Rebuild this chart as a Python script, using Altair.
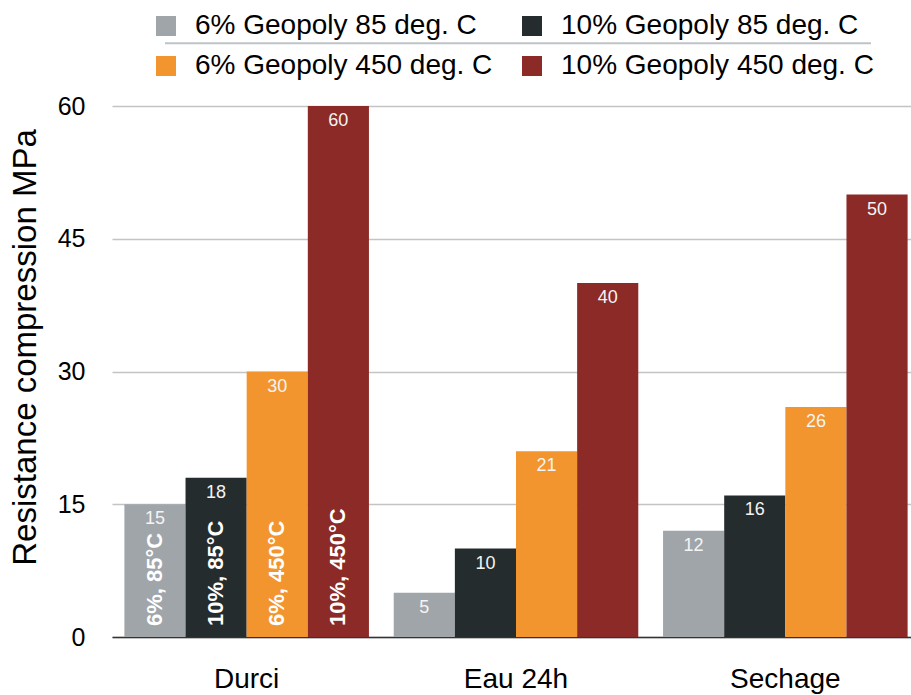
import altair as alt
import pandas as pd

categories = ["Durci", "Eau 24h", "Sechage"]
series = ["6% Geopoly 85 deg. C", "10% Geopoly 85 deg. C",
          "6% Geopoly 450 deg. C", "10% Geopoly 450 deg. C"]
short_labels = ["6%, 85°C", "10%, 85°C", "6%, 450°C", "10%, 450°C"]
vals_6_85 = [15, 5, 12]
vals_10_85 = [18, 10, 16]
vals_6_450 = [30, 21, 26]
vals_10_450 = [60, 40, 50]
colors = ["#A0A5AA", "#252C2E", "#F2952E", "#8B2A26"]
y_ticks = [0, 15, 30, 45, 60]

rows = []
for s, short, vals in zip(series, short_labels,
                          [vals_6_85, vals_10_85, vals_6_450, vals_10_450]):
    for c, v in zip(categories, vals):
        rows.append({"category": c, "series": s, "value": v,
                     "short": short if c == "Durci" else ""})
df = pd.DataFrame(rows)

FONT = "Liberation Sans"

x = alt.X("category:N", sort=categories,
          scale=alt.Scale(range=[0, 808], paddingInner=0.092, paddingOuter=0.046),
          axis=alt.Axis(title=None, labelAngle=0, labelFontSize=28, labelFont=FONT,
                        labelColor="#000000", labelPadding=28, ticks=False, tickSize=0,
                        domainColor="#333333", domainWidth=1.5, grid=False))
xo = alt.XOffset("series:N", sort=series,
                 scale=alt.Scale(paddingInner=0, paddingOuter=0))
y = alt.Y("value:Q", scale=alt.Scale(domain=[0, 60], nice=False),
          axis=alt.Axis(values=y_ticks, title="Resistance compression MPa",
                        domain=False, ticks=False, tickSize=0, labelPadding=27,
                        labelFontSize=25, labelFont=FONT, labelColor="#000000",
                        gridColor="#C4C4C4", gridWidth=1.5,
                        titleFontSize=33, titleFont=FONT, titleFontWeight="normal",
                        titleColor="#000000", titleAngle=270, titleX=-87, titleY=241,
                        titleBaseline="middle", titleAlign="center"))
color = alt.Color("series:N", sort=series,
                  scale=alt.Scale(domain=series, range=colors),
                  legend=alt.Legend(title=None, orient="none", legendX=40, legendY=-94,
                                    columns=2, direction="horizontal",
                                    symbolType="square", symbolSize=400,
                                    symbolStrokeWidth=0, labelFontSize=28, labelFont=FONT,
                                    labelColor="#000000", labelOffset=15,
                                    columnPadding=25, rowPadding=12, padding=0,
                                    labelLimit=500))

bars = alt.Chart(df).mark_bar().encode(x=x, xOffset=xo, y=y, color=color)

values_text = alt.Chart(df).mark_text(baseline="top", dy=6, fontSize=18, font=FONT,
                                      color="#F4F4F4").encode(
    x=x, xOffset=xo, y=y, text="value:Q")

rot_text = alt.Chart(df).transform_filter(alt.datum.category == "Durci").mark_text(
    angle=270, align="left", baseline="middle", dx=11, fontSize=22, font=FONT,
    fontWeight="bold", color="#FFFFFF").encode(
    x=x, xOffset=xo, y=alt.datum(0), text="short:N")

sep = alt.Chart(pd.DataFrame({"a": [0]})).mark_rule(color="#BFC3C6", strokeWidth=2).encode(
    x=alt.value(53), x2=alt.value(759), y=alt.value(-62.7))

chart = alt.layer(bars, values_text, rot_text, sep).properties(
    width=799, height=531,
    background="white",
    autosize=alt.AutoSizeParams(type="none"),
    padding={"left": 112, "top": 106, "right": 0, "bottom": 58},
).configure_view(strokeWidth=0, stroke="transparent").configure_axisY(
    domain=False, ticks=False
)

chart.save("out.html", embed_options={"renderer": "svg", "actions": False})
